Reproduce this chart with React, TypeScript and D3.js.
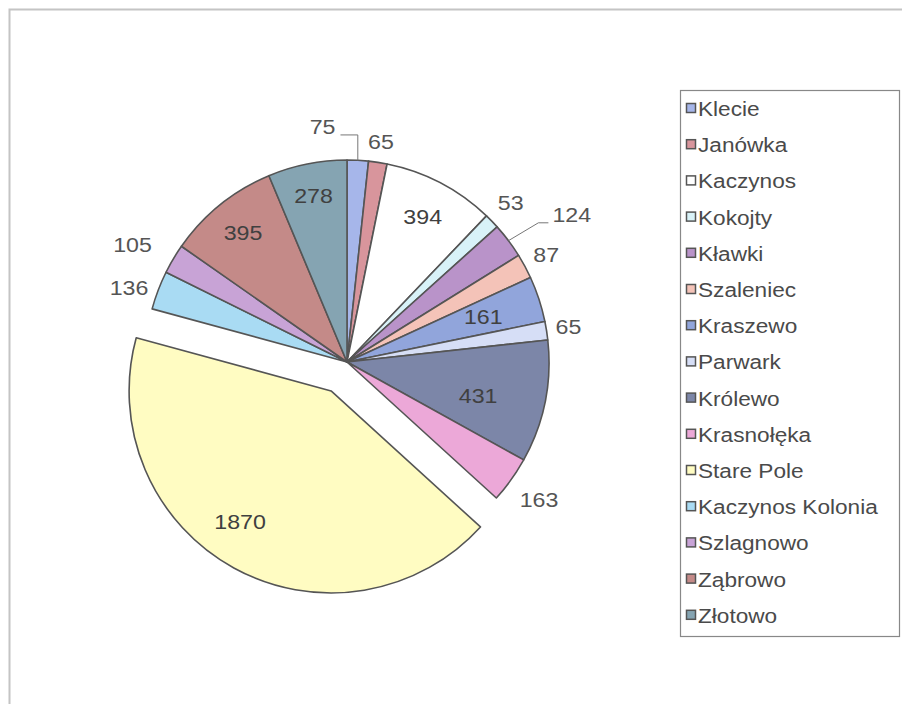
import { pie, arc, PieArcDatum } from "d3";

const villages = [
	"Klecie",
	"Janówka",
	"Kaczynos",
	"Kokojty",
	"Kławki",
	"Szaleniec",
	"Kraszewo",
	"Parwark",
	"Królewo",
	"Krasnołęka",
	"Stare Pole",
	"Kaczynos Kolonia",
	"Szlagnowo",
	"Ząbrowo",
	"Złotowo",
];
const residents = [75, 65, 394, 53, 124, 87, 161, 65, 431, 163, 1870, 136, 105, 395, 278];
const sliceColors = [
	"#a6b6ea",
	"#d8959c",
	"#ffffff",
	"#d8f2f8",
	"#b993c9",
	"#f4c3b8",
	"#91a5db",
	"#d6def6",
	"#7c86a8",
	"#eca8d8",
	"#fffcc2",
	"#a9dbf3",
	"#c8a3d6",
	"#c48a88",
	"#85a4b2",
];
const explodedSlice = "Stare Pole";

// label layout: radius as share of pie radius, angle shift in degrees, leader kind
const labelRadius = [1.17, 1.1, 0.81, 1.13, 1.33, 1.12, 0.71, 1.11, 0.67, 1.17, 0.79, 1.14, 1.21, 0.82, 0.84];
const labelShift = [-9, 0, 0, 0, 3.7, 0, 0, 0, 3, 0, 6, -2, -2, 0, 0];
const leaders = ["v", "", "", "", "d", "", "", "", "", "", "", "", "", "", ""];

const cx = 347;
const cy = 362;
const R = 202;
const explode = 33;
const labelSize = 20;
const stretch = 1.16;
const legendTop = 90;
const legendStep = 36.2;

type Slice = PieArcDatum<number>;

function Label({ d, i }: { d: Slice; i: number }) {
	const mid = (d.startAngle + d.endAngle) / 2;
	const a = mid + (labelShift[i] * Math.PI) / 180;
	const rr = R * labelRadius[i];
	const x = Math.sin(a) * rr;
	const y = -Math.cos(a) * rr;
	const text = String(d.data);
	const half = (text.length * 0.556 * labelSize * stretch) / 2;
	const bottom = y + 8;
	const ex = Math.sin(mid) * R;
	const ey = -Math.cos(mid) * R;
	let leader = null;
	if (leaders[i] === "v") {
		leader = `M${ex},${ey}V${bottom}H${x + half + 5}`;
	} else if (leaders[i] === "d") {
		leader = `M${ex},${ey}L${x - half - 14},${bottom}H${x - half - 4}`;
	}
	return (
		<g>
			{leader && <path d={leader} fill="none" stroke="#777" strokeWidth={1} />}
			<text
				transform={`translate(${x},${y}) scale(${stretch},1)`}
				textAnchor="middle"
				dominantBaseline="central"
				fontSize={labelSize}
				fill={labelRadius[i] < 1 ? "#404040" : "#555"}
			>
				{text}
			</text>
		</g>
	);
}

export default function App() {
	const slices = pie<number>().sort(null).value((v) => v)(residents);
	const slicePath = arc<Slice>().innerRadius(0).outerRadius(R);

	return (
		<svg
			width={902}
			height={704}
			style={{ position: "absolute", left: 0, top: 0, background: "#fff" }}
			fontFamily="'Liberation Sans', Arial, sans-serif"
		>
			<rect x={9.5} y={9.5} width={920} height={720} fill="#fff" stroke="#c4c4c4" strokeWidth={2} />
			<g transform={`translate(${cx},${cy})`}>
				{slices.map((d, i) => {
					const mid = (d.startAngle + d.endAngle) / 2;
					const off = villages[i] === explodedSlice ? explode : 0;
					const tx = Math.sin(mid) * off;
					const ty = -Math.cos(mid) * off;
					return (
						<g key={villages[i]} transform={`translate(${tx},${ty})`}>
							<path
								d={slicePath(d) ?? ""}
								fill={sliceColors[i]}
								stroke="#555"
								strokeWidth={1.6}
								strokeLinejoin="round"
							/>
							<Label d={d} i={i} />
						</g>
					);
				})}
			</g>
			<g>
				<rect x={680.5} y={legendTop + 0.5} width={219} height={546} fill="#fff" stroke="#888" strokeWidth={1.2} />
				{villages.map((name, i) => {
					const y = legendTop + 19 + i * legendStep;
					return (
						<g key={name}>
							<rect x={686.5} y={y - 5.5} width={9} height={9} fill={sliceColors[i]} stroke="#555" strokeWidth={1.5} />
							<text
								transform={`translate(698,${y}) scale(${stretch},1)`}
								dominantBaseline="central"
								fontSize={19.5}
								fill="#4a4a4a"
							>
								{name}
							</text>
						</g>
					);
				})}
			</g>
		</svg>
	);
}
